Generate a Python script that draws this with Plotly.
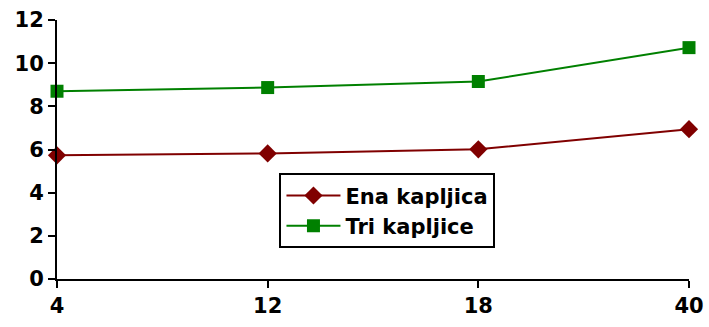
import plotly.graph_objects as go

# Categories on the horizontal axis and the two measured series
categories = ["4", "12", "18", "40"]
ena_kapljica = [5.73, 5.82, 6.01, 6.94]
tri_kapljice = [8.70, 8.87, 9.15, 10.72]
y_ticks = [0, 2, 4, 6, 8, 10, 12]

tick_font = dict(family="DejaVu Sans", size=21, color="black", weight="bold")

fig = go.Figure()
fig.add_trace(go.Scatter(
    x=categories, y=ena_kapljica, name="<b>Ena kapljica</b>",
    mode="lines+markers", cliponaxis=False,
    line=dict(color="#800000", width=2),
    marker=dict(symbol="diamond", size=14, color="#800000"),
))
fig.add_trace(go.Scatter(
    x=categories, y=tri_kapljice, name="<b>Tri kapljice</b>",
    mode="lines+markers", cliponaxis=False,
    line=dict(color="#008000", width=2),
    marker=dict(symbol="square", size=13, color="#008000"),
))

fig.update_layout(
    width=709, height=327,
    margin=dict(l=57, r=20, t=20, b=48),
    paper_bgcolor="white", plot_bgcolor="white",
    font=dict(family="DejaVu Sans", size=21, color="black"),
    legend=dict(
        x=0.352, y=0.408, xanchor="left", yanchor="top",
        bordercolor="black", borderwidth=2, bgcolor="white",
        font=dict(family="DejaVu Sans", size=21, color="black"),
        tracegroupgap=0, itemwidth=54,
    ),
    xaxis=dict(
        type="category", range=[0, 3], automargin=False,
        showline=True, linecolor="black", linewidth=2,
        ticks="outside", ticklen=7, tickwidth=1.5, tickcolor="black",
        showgrid=False, zeroline=False,
        tickfont=tick_font,
    ),
    yaxis=dict(
        range=[0, 12], tickvals=y_ticks, automargin=False,
        showline=True, linecolor="black", linewidth=2,
        ticks="outside", ticklen=7, tickwidth=1.5, tickcolor="black",
        showgrid=False, zeroline=False,
        tickfont=tick_font,
    ),
)

fig.write_html("out.html")
